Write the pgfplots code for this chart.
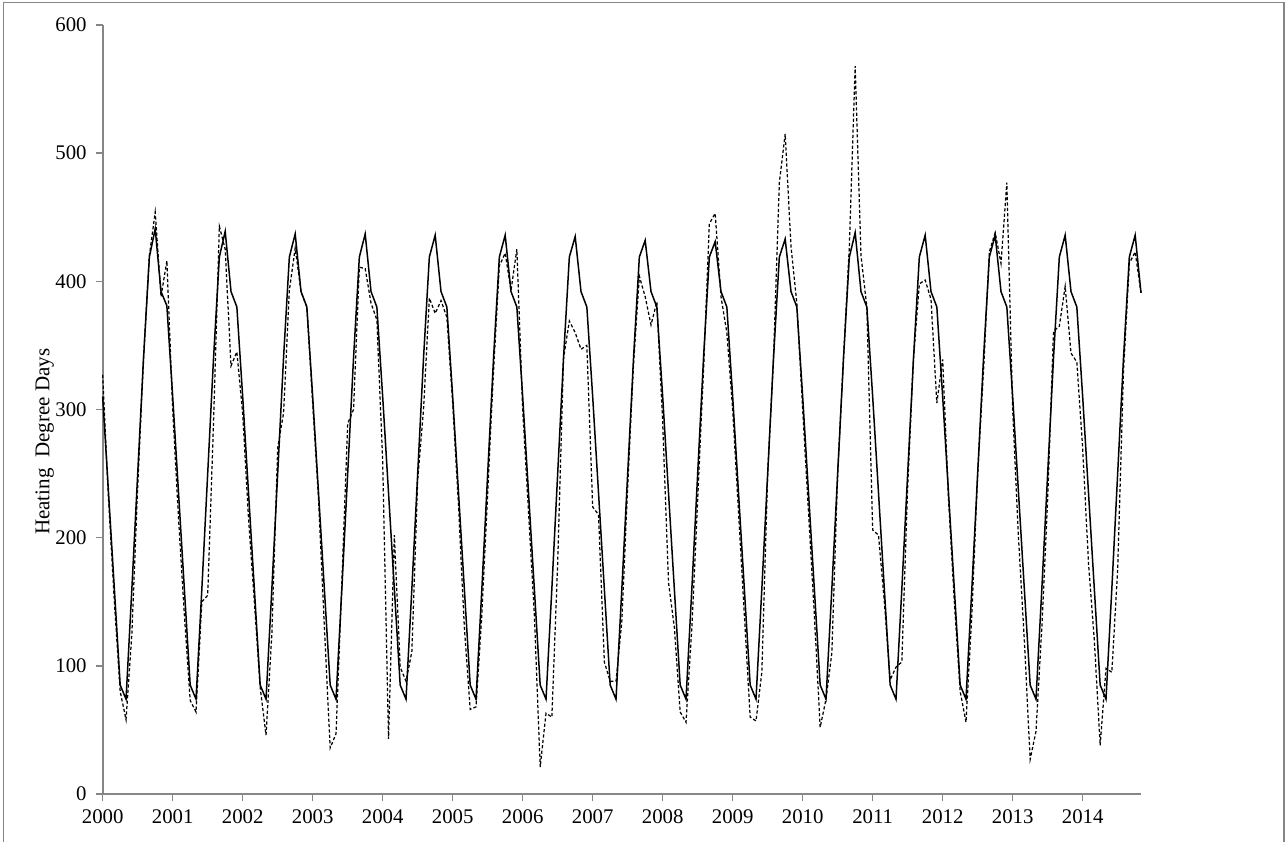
\documentclass[border=0pt]{standalone}
\usepackage{pgfplots}
\pgfplotsset{compat=1.18}
\usepackage{pgfplotstable}
\usepackage{fontspec}
\setmainfont{Liberation Serif}
\definecolor{axgray}{HTML}{868686}

\pgfplotstableread{
i s d
0 310 327
1 235 230
2 160 150
3 85 80
4 74 58
5 160 125
6 250 240
7 340 340
8 419 420
9 441 454
10 392 388
11 381 416
12 310 300
13 235 215
14 160 140
15 85 73
16 74 64
17 160 150
18 250 155
19 340 290
20 419 443
21 439 425
22 392 334
23 380 345
24 310 297
25 235 215
26 160 150
27 85 83
28 74 46
29 160 125
30 250 270
31 340 297
32 419 393
33 437 426
34 392 392
35 380 380
36 310 305
37 235 230
38 160 130
39 85 36
40 74 47
41 160 165
42 250 289
43 340 300
44 419 411
45 437 410
46 392 383
47 380 370
48 310 260
49 235 43
50 160 202
51 85 99
52 74 88
53 160 111
54 250 245
55 340 300
56 419 387
57 436 375
58 392 385
59 380 372
60 310 305
61 235 225
62 160 130
63 85 66
64 74 68
65 160 140
66 250 235
67 340 330
68 419 412
69 436 422
70 392 393
71 380 425
72 310 300
73 235 220
74 160 140
75 85 21
76 74 63
77 160 60
78 250 180
79 340 340
80 419 369
81 435 360
82 392 347
83 380 350
84 310 224
85 235 218
86 160 103
87 85 88
88 74 88
89 160 135
90 250 240
91 340 335
92 419 404
93 432 388
94 392 366
95 380 384
96 310 290
97 235 165
98 160 130
99 85 64
100 74 56
101 160 130
102 250 230
103 340 330
104 419 445
105 431 453
106 392 388
107 380 360
108 310 300
109 235 220
110 160 140
111 85 60
112 74 57
113 160 95
114 250 250
115 340 340
116 419 477
117 433 515
118 392 427
119 380 383
120 310 300
121 235 220
122 160 140
123 85 52
124 74 74
125 160 110
126 250 250
127 340 340
128 419 427
129 438 568
130 392 420
131 380 380
132 310 206
133 235 202
134 160 150
135 85 89
136 74 99
137 160 103
138 250 240
139 340 340
140 419 398
141 436 401
142 392 386
143 380 305
144 310 339
145 235 230
146 160 150
147 85 80
148 74 56
149 160 140
150 250 250
151 340 330
152 419 423
153 436 438
154 392 414
155 380 477
156 310 300
157 235 200
158 160 120
159 85 27
160 74 49
161 160 130
162 250 230
163 340 361
164 419 365
165 436 396
166 392 344
167 380 337
168 310 270
169 235 180
170 160 120
171 85 38
172 74 98
173 160 95
174 250 175
175 340 330
176 419 414
177 436 423
178 391 391
}\hdd

\begin{document}
\begin{tikzpicture}
\useasboundingbox (-51.35pt,-24pt) rectangle (592.15pt,397pt);
\draw[axgray, line width=0.6pt] (-49.5pt,-24pt) -- (-49.5pt,395.6pt) -- (590.6pt,395.6pt) -- (590.6pt,-24pt);
\begin{axis}[
  at={(0,0)}, anchor=south west,
  scale only axis,
  width=519.15pt, height=384.5pt,
  xmin=0, xmax=178, ymin=0, ymax=600,
  axis lines*=left,
  axis line style={axgray, line width=1pt},
  every tick/.style={axgray, line width=0.8pt},
  tick align=outside,
  major tick length=3.5pt,
  xtick={0,12,...,168},
  xticklabels={2000,2001,2002,2003,2004,2005,2006,2007,2008,2009,2010,2011,2012,2013,2014},
  ytick={0,100,...,600},
  tick label style={font=\fontsize{10.4pt}{12pt}\selectfont, black},
  /pgf/number format/assume math mode=true,
  yticklabel style={xshift=-1pt},
  xticklabel style={yshift=-1pt},
  ylabel={Heating\ \ Degree Days},
  every axis y label/.style={at={([xshift=-29pt]axis description cs:0,0.458)}, rotate=90, anchor=center, font=\fontsize{10.5pt}{11pt}\selectfont},
  clip=false,
]
\addplot[black, line width=0.75pt] table[x=i, y=s] {\hdd};
\addplot[black, line width=0.62pt, dash pattern=on 1.6pt off 1.1pt] table[x=i, y=d] {\hdd};
\end{axis}
\end{tikzpicture}
\end{document}
